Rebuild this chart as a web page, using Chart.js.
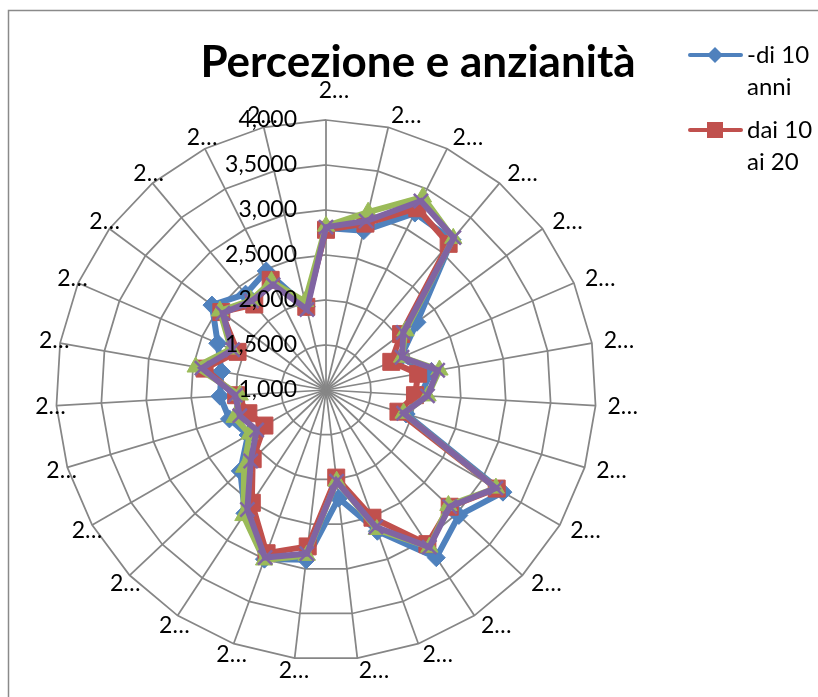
<!DOCTYPE html>
<html lang="it">
<head>
<meta charset="utf-8">
<title>Percezione e anzianità</title>
<script src="https://cdn.jsdelivr.net/npm/chart.js@4.4.1/dist/chart.umd.min.js"></script>
<style>
  html, body { margin: 0; padding: 0; background: #ffffff; }
  #wrap { position: relative; width: 818px; height: 697px; }
</style>
</head>
<body>
<div id="wrap"><canvas id="chart" width="818" height="697"></canvas></div>
<script>
// Category labels (truncated category names, as shown around the web)
const categories = ['2…','2…','2…','2…','2…','2…','2…','2…','2…','2…','2…','2…','2…','2…',
                    '2…','2…','2…','2…','2…','2…','2…','2…','2…','2…','2…','2…','2…'];

// Radial axis ticks and their printed labels
const tickValues = [1, 1.5, 2, 2.5, 3, 3.5, 4];
const tickLabels = ['1,000', '1,5000', '2,000', '2,5000', '3,000', '3,5000', '4,000'];

// Series names (only the first two fit in the legend)
const seriesNames = ['-di 10 anni', 'dai 10 ai 20', 'dai 20 ai 30', 'oltre 30'];

// Average perception score per item, by seniority group
const meno10   = [2.80, 2.82, 3.20, 3.18, 2.26, 1.90, 2.19, 2.05, 1.93, 3.27, 3.03, 3.23, 2.67, 2.21,
                  2.90, 3.00, 2.64, 2.31, 2.00, 2.12, 2.18, 2.18, 2.31, 2.58, 2.39, 2.48, 1.95];
const da10a20  = [2.78, 2.90, 3.26, 3.12, 2.04, 1.79, 2.04, 1.99, 1.84, 3.19, 2.89, 3.05, 2.51, 1.98,
                  2.75, 2.93, 2.50, 2.12, 1.79, 1.90, 2.00, 2.37, 2.07, 2.45, 2.24, 2.37, 1.95];
const da20a30  = [2.82, 3.03, 3.40, 3.20, 2.10, 1.92, 2.28, 2.13, 1.90, 3.18, 2.87, 3.09, 2.65, 2.02,
                  2.85, 3.01, 2.67, 2.25, 1.98, 2.06, 1.96, 2.47, 2.15, 2.47, 2.30, 2.35, 2.01];
const oltre30  = [2.81, 2.93, 3.35, 3.21, 2.07, 1.92, 2.26, 2.13, 1.90, 3.18, 2.89, 3.09, 2.62, 2.02,
                  2.83, 2.98, 2.59, 2.15, 1.89, 2.00, 2.01, 2.40, 2.13, 2.43, 2.29, 2.31, 1.92];

const BLUE = '#4F81BD', RED = '#C0504D', GREEN = '#9BBB59', PURPLE = '#8064A2';
const GRID = '#868686';
const FONT = 'Lato, "Open Sans", "DejaVu Sans", sans-serif';

function series(label, data, color, pointStyle, radius, order, pointBorderWidth) {
  return {
    label, data, order,
    borderColor: color, backgroundColor: color,
    borderWidth: 6, fill: false, tension: 0,
    pointStyle, pointRadius: radius, pointHoverRadius: radius,
    pointBackgroundColor: color, pointBorderColor: color,
    pointBorderWidth: pointBorderWidth
  };
}

// Chart frame, title, legend, tick and category labels
const decorations = {
  id: 'decorations',
  beforeDraw(chart) {
    const ctx = chart.ctx;
    ctx.save();
    ctx.fillStyle = '#ffffff';
    ctx.fillRect(0, 0, chart.width, chart.height);
    ctx.strokeStyle = '#8a8a8a';
    ctx.lineWidth = 1.5;
    ctx.strokeRect(8.5, 10.5, 1000, 1000);
    ctx.restore();
  },
  afterDraw(chart) {
    const ctx = chart.ctx;
    const scale = chart.scales.r;
    const R = scale.drawingArea;
    ctx.save();
    ctx.fillStyle = '#000000';

    // title
    ctx.font = 'bold 44px ' + FONT;
    ctx.textAlign = 'center';
    ctx.textBaseline = 'alphabetic';
    ctx.fillText('Percezione e anzianità', 418, 77);

    // radial tick labels, right-aligned left of the vertical axis
    ctx.font = '23px ' + FONT;
    ctx.textAlign = 'right';
    ctx.textBaseline = 'middle';
    scale.ticks.forEach(t => {
      const y = scale.yCenter - scale.getDistanceFromCenterForValue(t.value);
      ctx.fillText(t.label, scale.xCenter - 29, y);
    });

    // category labels around the web
    chart.data.labels.forEach((lab, i) => {
      const a = scale.getIndexAngle(i);
      const s = Math.sin(a), c = Math.cos(a);
      const edge = scale.getPointPosition(i, R);
      const p = scale.getPointPosition(i, R + 12);
      if (Math.abs(s) < 1e-6) {
        ctx.textAlign = 'center';
        ctx.fillText(lab, p.x + (c > 0 ? 8 : 0), p.y - (c > 0 ? 17 : 0));
      } else if (s > 0) {
        ctx.textAlign = 'left';
        ctx.fillText(lab, p.x, p.y);
      } else {
        ctx.textAlign = 'center';
        ctx.fillText(lab, edge.x + 6 * s, p.y);
      }
    });

    // legend (first two series)
    ctx.font = '24px ' + FONT;
    ctx.textAlign = 'left';
    const lineGap = 32;
    let y = 55;
    [0, 1].forEach(idx => {
      const ds = chart.data.datasets[idx];
      ctx.strokeStyle = ds.borderColor;
      ctx.fillStyle = ds.borderColor;
      ctx.lineWidth = 4;
      ctx.lineCap = 'round';
      ctx.beginPath();
      ctx.moveTo(690, y);
      ctx.lineTo(741, y);
      ctx.stroke();
      ctx.beginPath();
      if (ds.pointStyle === 'rectRot') {
        ctx.moveTo(715, y - 8); ctx.lineTo(723, y); ctx.lineTo(715, y + 8); ctx.lineTo(707, y);
      } else {
        ctx.rect(707, y - 8, 16, 16);
      }
      ctx.closePath();
      ctx.fill();

      // wrap the series name to the legend width
      const words = ds.label.split(' ');
      const lines = [];
      let cur = '';
      words.forEach(w => {
        const test = cur ? cur + ' ' + w : w;
        if (cur && ctx.measureText(test).width > 72) { lines.push(cur); cur = w; }
        else cur = test;
      });
      lines.push(cur);
      ctx.fillStyle = '#000000';
      lines.forEach((ln, k) => ctx.fillText(ln, 747, y + k * lineGap));
      y += lines.length * lineGap + 11;
    });
    ctx.restore();
  }
};

new Chart(document.getElementById('chart'), {
  type: 'radar',
  data: {
    labels: categories,
    datasets: [
      series(seriesNames[0], meno10,  BLUE,   'rectRot',  9, 3, 1),
      series(seriesNames[1], da10a20, RED,    'rect',    12, 2, 1),
      series(seriesNames[2], da20a30, GREEN,  'triangle',10, 1, 1),
      series(seriesNames[3], oltre30, PURPLE, 'crossRot',10, 0, 2.5)
    ]
  },
  options: {
    responsive: false,
    animation: false,
    devicePixelRatio: 1,
    layout: { padding: { left: 56, right: 222, top: 120, bottom: 37 } },
    plugins: {
      legend: { display: false },
      title: { display: false },
      tooltip: { enabled: false }
    },
    scales: {
      r: {
        min: tickValues[0],
        max: tickValues[tickValues.length - 1],
        beginAtZero: false,
        ticks: {
          stepSize: 0.5,
          display: false,
          callback: (v) => tickLabels[tickValues.indexOf(v)]
        },
        grid: { color: GRID, lineWidth: 1.75, circular: false },
        angleLines: { color: GRID, lineWidth: 1.75 },
        pointLabels: { display: false }
      }
    }
  },
  plugins: [decorations]
});
</script>
</body>
</html>
